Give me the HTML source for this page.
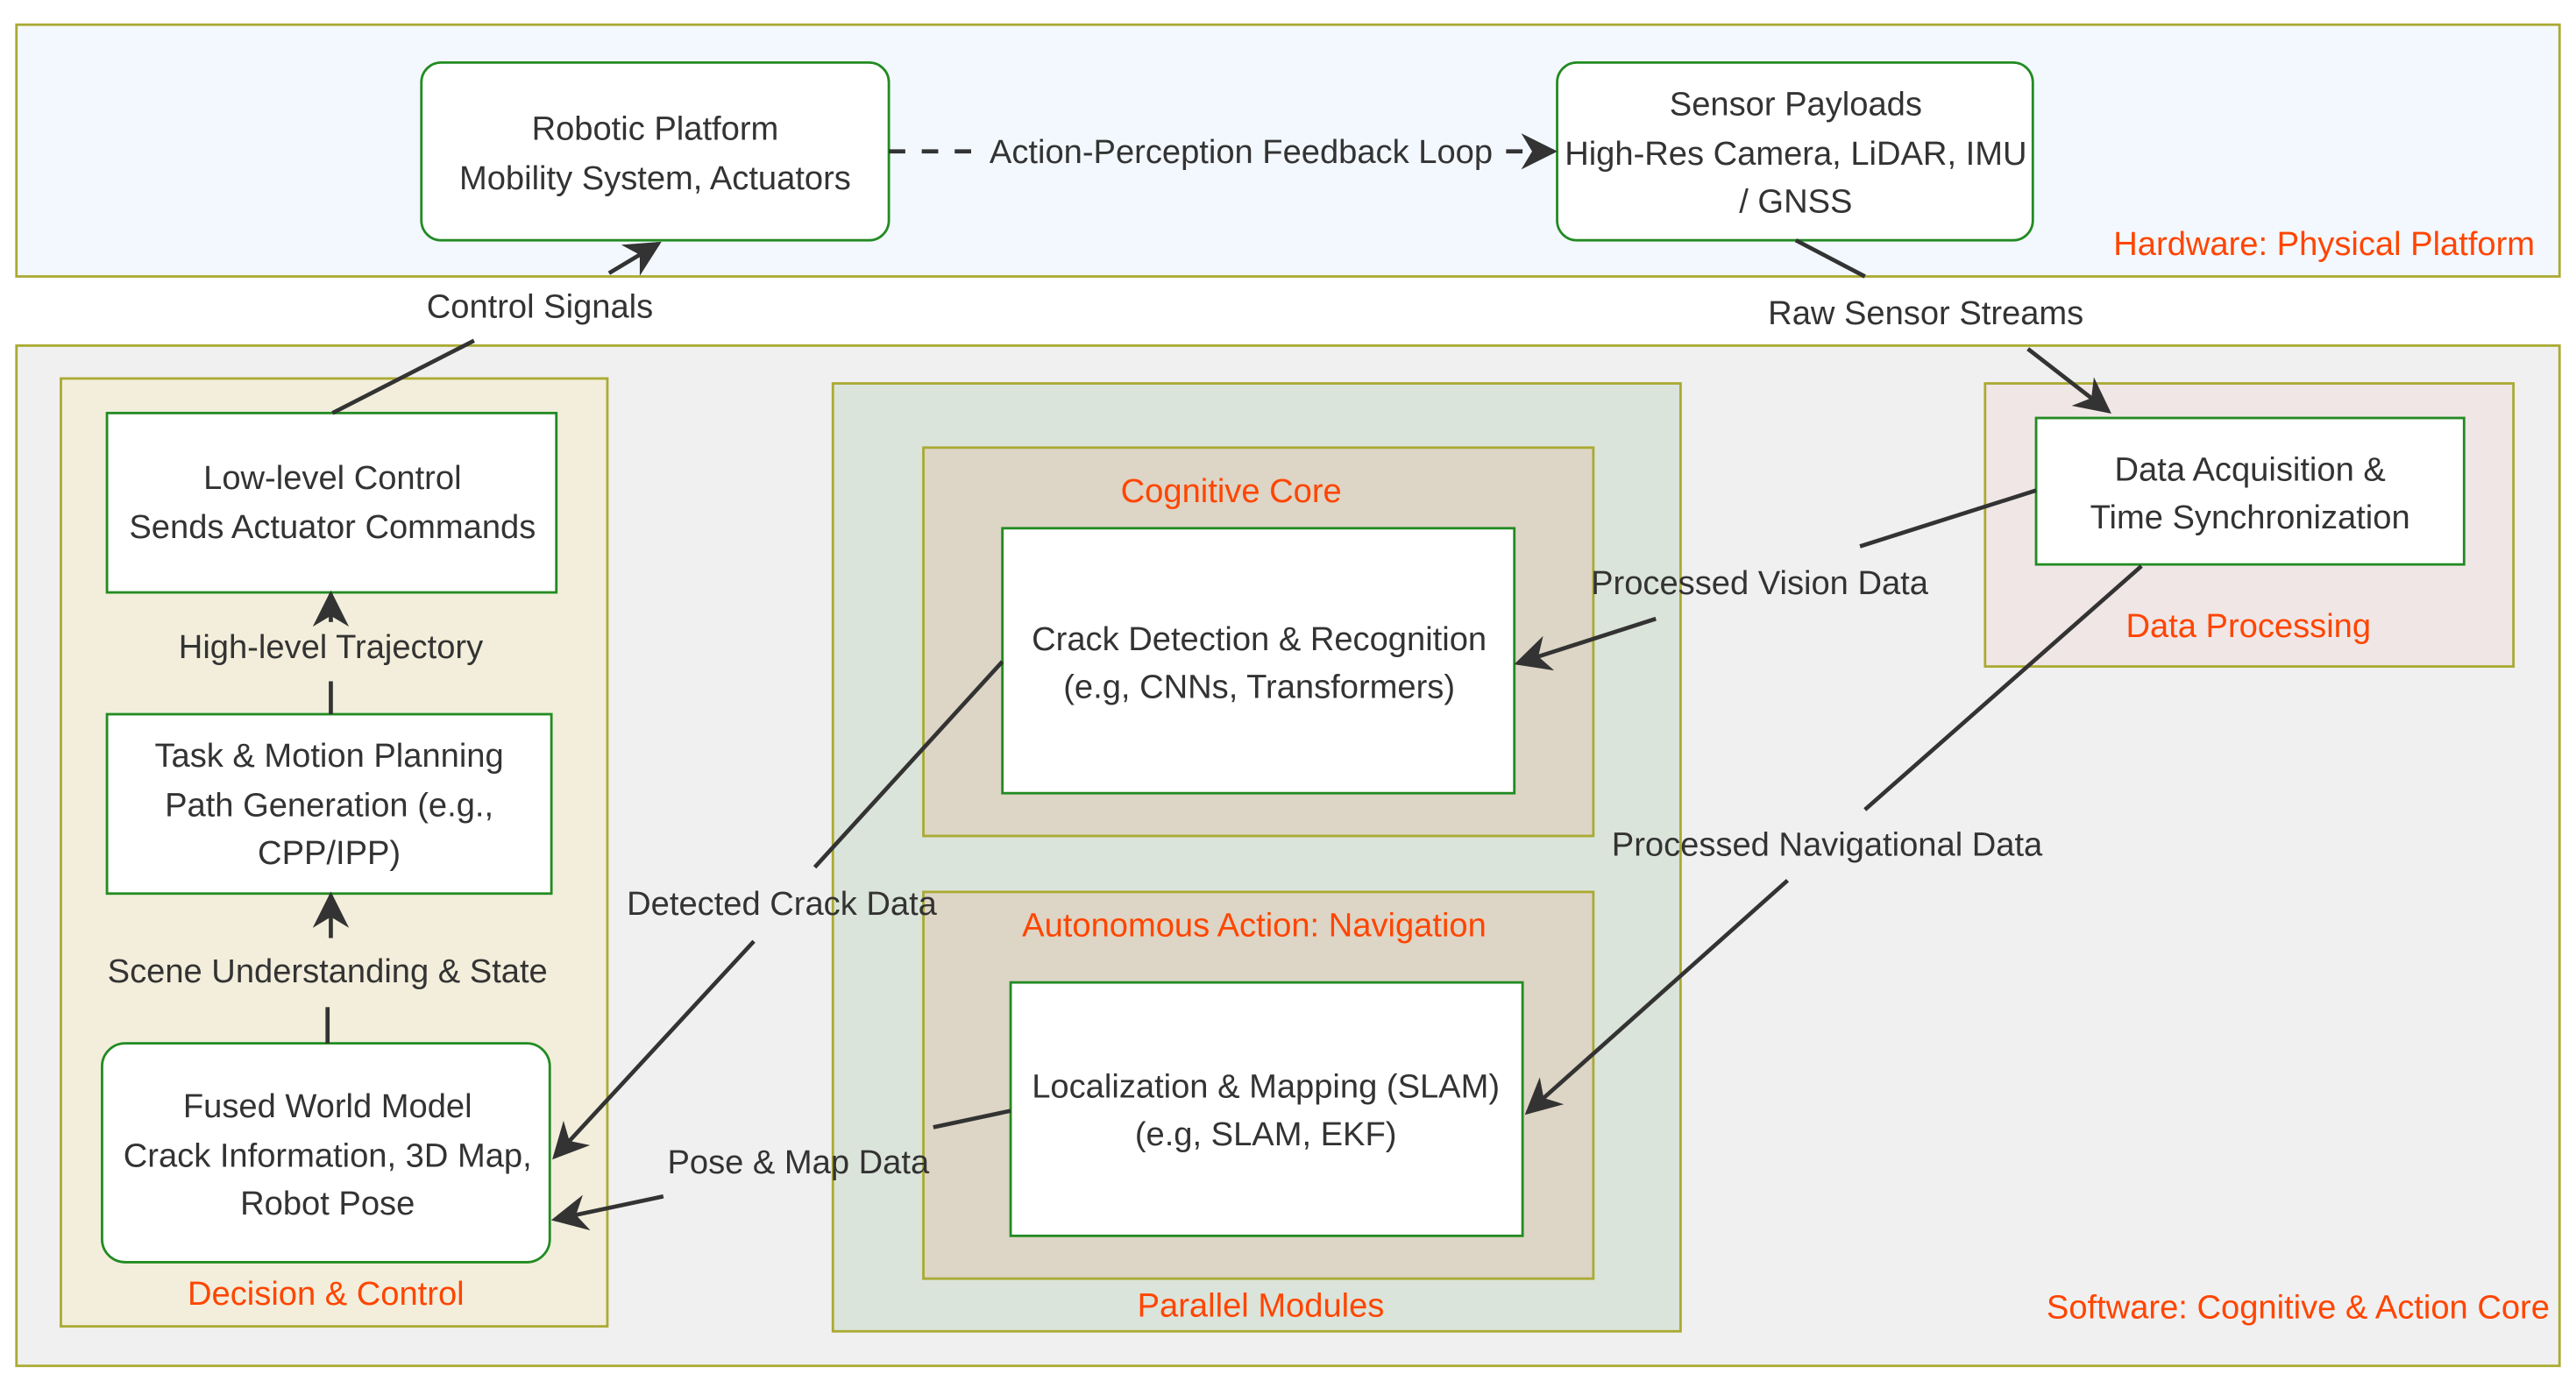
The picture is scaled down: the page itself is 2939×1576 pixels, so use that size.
<!DOCTYPE html>
<html><head><meta charset="utf-8"><style>
html,body{margin:0;padding:0;background:#fff;}
svg{display:block;}
text{font-family:"Liberation Sans","DejaVu Sans",sans-serif;font-size:20.3px;fill:#333;text-anchor:middle;}
.o{fill:#ff4500;}
</style></head><body>
<svg width="2939" height="1576" viewBox="0 0 1565 839.2" preserveAspectRatio="none" xmlns="http://www.w3.org/2000/svg">
<defs>
<marker id="b" viewBox="0 0 10 10" refX="9" refY="5" markerWidth="22" markerHeight="22" orient="auto" markerUnits="userSpaceOnUse"><path d="M0,0 L10,5 L0,10 L3,5 z" fill="#333"/></marker>
</defs>
<rect width="1565" height="839.2" fill="#fff"/>
<rect x="10" y="15" width="1545" height="153" fill="#f3f8fe" stroke="#aaaa33" stroke-width="1.5"/>
<text class="o" x="1540" y="155" style="text-anchor:end">Hardware: Physical Platform</text>
<rect x="10" y="210" width="1545" height="620" fill="#f0f0f0" stroke="#aaaa33" stroke-width="1.5"/>
<text class="o" x="1549" y="801" style="text-anchor:end">Software: Cognitive &amp; Action Core</text>
<rect x="37" y="230" width="332" height="576" fill="#f2eedb" stroke="#aaaa33" stroke-width="1.5"/>
<text class="o" x="198" y="793">Decision &amp; Control</text>
<rect x="506" y="233" width="515" height="576" fill="#dbe4da" stroke="#aaaa33" stroke-width="1.5"/>
<text class="o" x="766" y="800">Parallel Modules</text>
<rect x="561" y="272" width="407" height="236" fill="#ddd5c5" stroke="#aaaa33" stroke-width="1.5"/>
<text class="o" x="748" y="305">Cognitive Core</text>
<rect x="561" y="542" width="407" height="235" fill="#ddd5c5" stroke="#aaaa33" stroke-width="1.5"/>
<text class="o" x="762" y="569">Autonomous Action: Navigation</text>
<rect x="1206" y="233" width="321" height="172" fill="#f0e6e6" stroke="#aaaa33" stroke-width="1.5"/>
<text class="o" x="1366" y="387">Data Processing</text>

<g stroke="#228b22" stroke-width="1.5" fill="#fff">
<rect x="256" y="38" width="284" height="108" rx="12"/>
<rect x="946" y="38" width="289" height="108" rx="12"/>
<rect x="65" y="251" width="273" height="109"/>
<rect x="65" y="434" width="270" height="109"/>
<rect x="62" y="634" width="272" height="133" rx="14"/>
<rect x="609" y="321" width="311" height="161"/>
<rect x="614" y="597" width="311" height="154"/>
<rect x="1237" y="254" width="260" height="89"/>
</g>
<text x="398" y="85">Robotic Platform</text>
<text x="398" y="115">Mobility System, Actuators</text>
<text x="1091" y="70">Sensor Payloads</text>
<text x="1091" y="100">High-Res Camera, LiDAR, IMU</text>
<text x="1091" y="129">/ GNSS</text>
<text x="202" y="297">Low-level Control</text>
<text x="202" y="327">Sends Actuator Commands</text>
<text x="200" y="466">Task &amp; Motion Planning</text>
<text x="200" y="496">Path Generation (e.g.,</text>
<text x="200" y="525">CPP/IPP)</text>
<text x="199" y="679">Fused World Model</text>
<text x="199" y="709">Crack Information, 3D Map,</text>
<text x="199" y="738">Robot Pose</text>
<text x="765" y="395">Crack Detection &amp; Recognition</text>
<text x="765" y="424">(e.g, CNNs, Transformers)</text>
<text x="769" y="667">Localization &amp; Mapping (SLAM)</text>
<text x="769" y="696">(e.g, SLAM, EKF)</text>
<text x="1367" y="292">Data Acquisition &amp;</text>
<text x="1367" y="321">Time Synchronization</text>

<g stroke="#333" stroke-width="2.5" fill="none">
<path d="M540,92 L590,92" stroke-dasharray="10,10"/>
<path d="M915,92 L944,92" stroke-dasharray="10,10" marker-end="url(#b)"/>
<path d="M202,251 L288,207"/>
<path d="M370,166 L400,148" marker-end="url(#b)"/>
<path d="M201,434 L201,414"/>
<path d="M201,378 L201,361" marker-end="url(#b)"/>
<path d="M199,634 L199,612"/>
<path d="M201,570 L201,544" marker-end="url(#b)"/>
<path d="M1091,146 L1133,168"/>
<path d="M1232,212 L1281,250" marker-end="url(#b)"/>
<path d="M1237,298 L1130,332"/>
<path d="M1006,376 L922,403" marker-end="url(#b)"/>
<path d="M1301,344 L1133,492"/>
<path d="M1086,535 L928,676" marker-end="url(#b)"/>
<path d="M609,402 L495,527"/>
<path d="M458,572 L337,703" marker-end="url(#b)"/>
<path d="M614,675 L567,685"/>
<path d="M403,727 L337,741" marker-end="url(#b)"/>
</g>
<text x="754" y="99">Action-Perception Feedback Loop</text>
<text x="328" y="193">Control Signals</text>
<text x="201" y="400">High-level Trajectory</text>
<text x="199" y="597">Scene Understanding &amp; State</text>
<text x="1170" y="197">Raw Sensor Streams</text>
<text x="1069" y="361">Processed Vision Data</text>
<text x="1110" y="520">Processed Navigational Data</text>
<text x="475" y="556">Detected Crack Data</text>
<text x="485" y="713">Pose &amp; Map Data</text>
</svg>
</body></html>
